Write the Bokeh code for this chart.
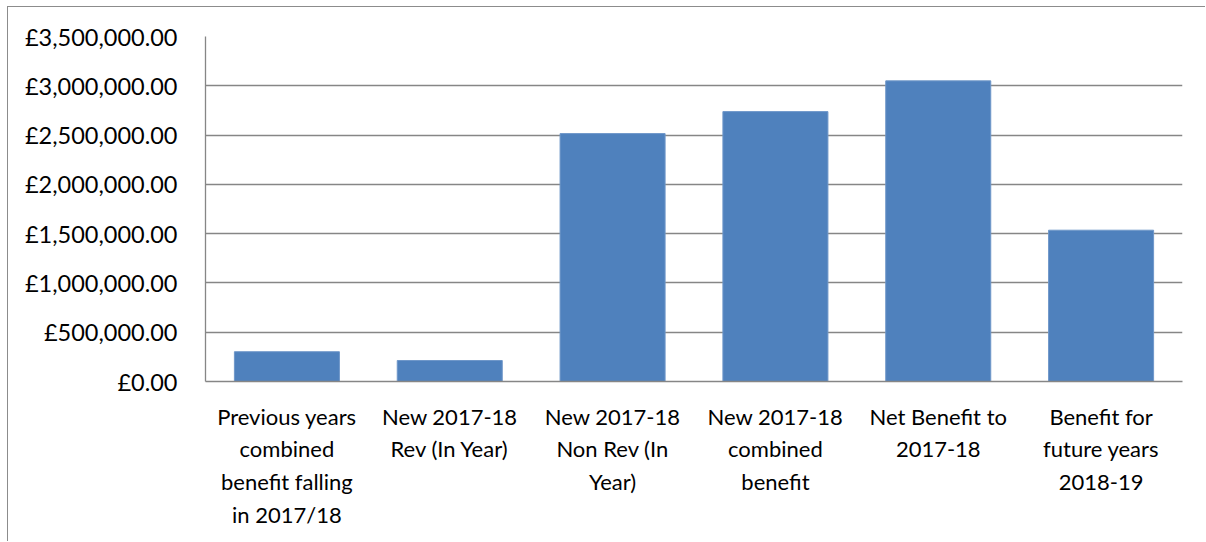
from bokeh.plotting import figure
from bokeh.models import FixedTicker, CustomJSTickFormatter
from bokeh.embed import file_html
from bokeh.resources import INLINE

categories = [
    "Previous years\ncombined\nbenefit falling\nin 2017/18",
    "New 2017-18\nRev (In Year)",
    "New 2017-18\nNon Rev (In\nYear)",
    "New 2017-18\ncombined\nbenefit",
    "Net Benefit to\n2017-18",
    "Benefit for\nfuture years\n2018-19",
]
values = [302000, 213000, 2515000, 2738000, 3050000, 1535000]
y_ticks = [0, 500000, 1000000, 1500000, 2000000, 2500000, 3000000, 3500000]

FONT = "Lato"
GRID = "#868686"

p = figure(
    x_range=categories, y_range=(0, 3500000),
    width=1198, height=535,
    min_border_left=197, min_border_right=24, min_border_top=29, min_border_bottom=161,
    output_backend="svg", toolbar_location=None,
)
p.vbar(x=categories, top=values, width=0.645, fill_color="#4F81BD", line_color="#6F97C9", line_width=1)

p.outline_line_color = None
p.styles = {"border-left": "1px solid #8c8c8c", "border-top": "1px solid #8c8c8c",
            "margin-left": "7px", "margin-top": "6px"}

p.xgrid.grid_line_color = None
p.ygrid.grid_line_color = GRID
p.ygrid.grid_line_width = 1.3
p.ygrid.ticker = FixedTicker(ticks=y_ticks)

p.yaxis.ticker = FixedTicker(ticks=y_ticks)
p.yaxis.formatter = CustomJSTickFormatter(code="""
    return '\u00a3' + tick.toLocaleString('en-GB', {minimumFractionDigits: 2, maximumFractionDigits: 2});
""")
p.yaxis.axis_line_color = GRID
p.yaxis.axis_line_width = 1.3
p.yaxis.major_tick_line_color = None
p.yaxis.minor_tick_line_color = None
p.yaxis.major_label_standoff = 22
p.yaxis.major_label_text_font = FONT
p.yaxis.major_label_text_font_size = "23.5px"
p.yaxis.major_label_text_color = "#000000"

p.xaxis.axis_line_color = GRID
p.xaxis.axis_line_width = 1.3
p.xaxis.major_tick_line_color = None
p.xaxis.minor_tick_line_color = None
p.xaxis.major_label_standoff = 15
p.xaxis.major_label_text_font = FONT
p.xaxis.major_label_text_font_size = "22px"
p.xaxis.major_label_text_color = "#000000"
p.xaxis.major_label_text_line_height = 1.22
p.x_range.range_padding = 0

open("out.html", "w").write(file_html(p, INLINE))
